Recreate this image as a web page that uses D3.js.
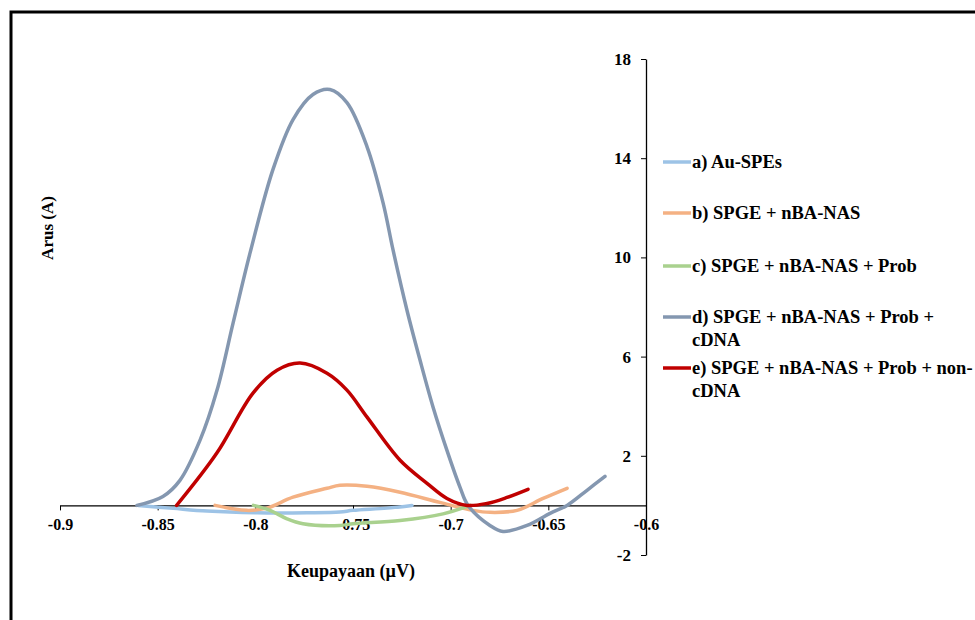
<!DOCTYPE html>
<html>
<head>
<meta charset="utf-8">
<script src="https://cdn.jsdelivr.net/npm/d3@7"></script>
<style>
	body { margin: 0; background: #fff; }
	svg { display: block; }
	svg text { font-family: "Times New Roman", "Liberation Serif", Times, "DejaVu Serif", serif; font-weight: bold; fill: #000; }
</style>
</head>
<body>
<div id="chart"></div>
<script>
// series values: [potential, current]
const auSpes = [[-0.8599, 0], [-0.8421, -0.12], [-0.8247, -0.23], [-0.7991, -0.30], [-0.7736, -0.30], [-0.7567, -0.27], [-0.75, -0.2], [-0.7326, -0.11], [-0.7198, 0]];
const spgeNas = [[-0.8206, 0], [-0.8044, -0.2], [-0.7942, -0.11], [-0.7807, 0.33], [-0.7633, 0.69], [-0.7567, 0.81], [-0.7428, 0.77], [-0.7259, 0.53], [-0.7055, 0.12], [-0.6886, -0.2], [-0.6799, -0.28], [-0.666, -0.2], [-0.6527, 0.28], [-0.6404, 0.69]];
const spgeProb = [[-0.801, 0], [-0.7925, -0.2], [-0.7838, -0.54], [-0.7756, -0.74], [-0.7567, -0.81], [-0.75, -0.74], [-0.7259, -0.61], [-0.7039, -0.34], [-0.6901, 0]];
const spgeCdna = [[-0.8606, 0], [-0.8473, 0.36], [-0.8386, 1.01], [-0.8283, 2.63], [-0.8196, 4.65], [-0.8114, 7.35], [-0.8027, 10.18], [-0.791, 13.54], [-0.7807, 15.56], [-0.7705, 16.57], [-0.7618, 16.77], [-0.7531, 16.24], [-0.7428, 14.46], [-0.7346, 12.2], [-0.7295, 10.3], [-0.7224, 7.88], [-0.7157, 5.86], [-0.709, 3.96], [-0.7019, 2.22], [-0.6952, 0.73], [-0.6911, 0], [-0.6799, -0.81], [-0.6732, -1.05], [-0.6609, -0.81], [-0.6491, -0.32], [-0.6404, 0], [-0.6302, 0.61], [-0.621, 1.17]];
const spgeNonCdna = [[-0.8403, 0], [-0.8198, 2.1], [-0.8012, 4.53], [-0.7889, 5.45], [-0.7771, 5.74], [-0.7633, 5.33], [-0.7531, 4.65], [-0.7428, 3.56], [-0.7259, 1.82], [-0.7121, 0.89], [-0.7019, 0.28], [-0.6916, 0], [-0.6814, 0.08], [-0.6712, 0.32], [-0.6604, 0.65]];

const seriesNames = [
	['a) Au-SPEs'],
	['b) SPGE + nBA-NAS'],
	['c) SPGE + nBA-NAS + Prob'],
	['d) SPGE + nBA-NAS + Prob +', 'cDNA'],
	['e) SPGE + nBA-NAS + Prob + non-', 'cDNA']
];
const seriesColors = ['#9DC3E6', '#F4B183', '#A9D18E', '#8497B0', '#C00000'];
const xTicks = [-0.9, -0.85, -0.8, -0.75, -0.7, -0.65, -0.6];
const yTicks = [-2, 2, 6, 10, 14, 18];

const allSeries = [auSpes, spgeNas, spgeProb, spgeCdna, spgeNonCdna];

const width = 975;
const height = 620;

const svg = d3.select('#chart')
	.append('svg')
	.attr('width', width)
	.attr('height', height);

// outer frame (only left and top edges are visible)
svg.append('rect')
	.attr('x', 11)
	.attr('y', 12)
	.attr('width', 1000)
	.attr('height', 700)
	.attr('fill', 'none')
	.attr('stroke', '#000')
	.attr('stroke-width', 3);

const xScale = d3.scaleLinear().domain([-0.9, -0.6]).range([60, 646]);
const yScale = d3.scaleLinear().domain([-2, 18]).range([555, 59]);

// plain hyphen for negatives, like the original
const fmt = (d) => String(+d.toFixed(2));

// curves
const line = d3.line()
	.x((d) => xScale(d[0]))
	.y((d) => yScale(d[1]))
	.curve(d3.curveCatmullRom.alpha(0.5));

// x axis at y = 0
const xAxis = svg.append('g')
	.attr('transform', `translate(0, ${yScale(0)})`)
	.call(d3.axisBottom(xScale).tickValues(xTicks).tickSize(5).tickSizeOuter(0).tickFormat(fmt));
xAxis.select('.domain').attr('stroke', '#000').attr('stroke-width', 1.3);
xAxis.selectAll('.tick line').attr('stroke', '#000');
xAxis.selectAll('.tick text')
	.attr('font-size', 16)
	.attr('dy', '1.05em');

// y axis at x = -0.6
const yAxis = svg.append('g')
	.attr('transform', `translate(${xScale(-0.6)}, 0)`)
	.call(d3.axisLeft(yScale).tickValues(yTicks).tickSize(5).tickSizeOuter(0).tickFormat(fmt));
yAxis.select('.domain').attr('stroke', '#000').attr('stroke-width', 1.3);
yAxis.selectAll('.tick line').attr('stroke', '#000');
yAxis.selectAll('.tick text')
	.attr('font-size', 17)
	.attr('x', -15);

allSeries.forEach((s, i) => {
	svg.append('path')
		.datum(s)
		.attr('d', line)
		.attr('fill', 'none')
		.attr('stroke', seriesColors[i])
		.attr('stroke-width', 3.5)
		.attr('stroke-linecap', 'round');
});

// axis titles
svg.append('text')
	.attr('transform', 'translate(53, 228) rotate(-90)')
	.attr('text-anchor', 'middle')
	.attr('font-size', 17)
	.text('Arus (A)');

svg.append('text')
	.attr('x', 351)
	.attr('y', 577)
	.attr('text-anchor', 'middle')
	.attr('font-size', 18)
	.text('Keupayaan (µV)');

// legend
const legendY = [162, 213, 266, 317, 368];
const legend = svg.append('g');
seriesNames.forEach((lines, i) => {
	const y = legendY[i];
	legend.append('line')
		.attr('x1', 663)
		.attr('x2', 691)
		.attr('y1', y)
		.attr('y2', y)
		.attr('stroke', seriesColors[i])
		.attr('stroke-width', 3.5);
	const t = legend.append('text')
		.attr('x', 692)
		.attr('y', y)
		.attr('font-size', 18.5);
	lines.forEach((ln, j) => {
		t.append('tspan')
			.attr('x', 692)
			.attr('dy', j === 0 ? '0.35em' : '1.2em')
			.text(ln);
	});
});
</script>
</body>
</html>
